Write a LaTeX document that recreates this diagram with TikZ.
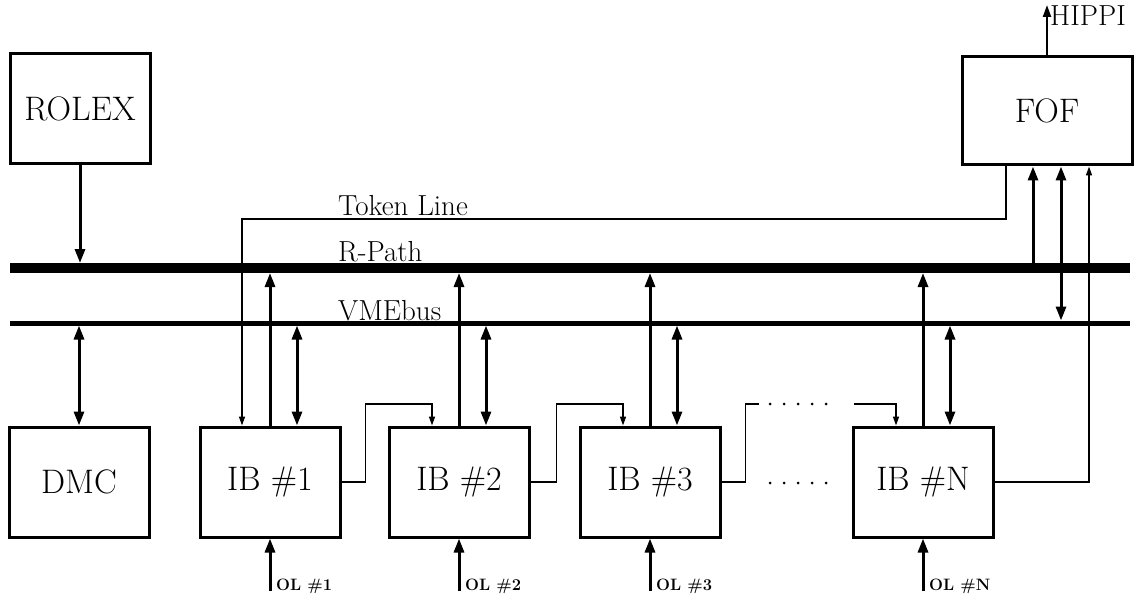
\documentclass[tikz,border=0pt]{standalone}
\usetikzlibrary{arrows.meta,calc}
\begin{document}
\begin{tikzpicture}[x=1pt,y=-1pt,
  box/.style={draw,line width=3pt,minimum width=140pt,minimum height=110pt,
    inner sep=0pt,font=\fontsize{34}{40}\selectfont},
  heavy/.style={line width=3pt,-{Triangle[length=14pt,width=10pt]}},
  heavyboth/.style={line width=3pt,{Triangle[length=14pt,width=10pt]}-{Triangle[length=14pt,width=10pt]}},
  light/.style={line width=1.5pt,-{Triangle[length=9pt,width=6pt]}},
  plain/.style={line width=1.5pt},
  buslabel/.style={font=\fontsize{29}{34}\selectfont,anchor=base west,inner sep=0pt},
  ollabel/.style={font=\fontsize{16.5}{19}\selectfont\bfseries,anchor=west,inner sep=0pt},
  dot/.style={fill,circle,inner sep=0pt,minimum size=3pt}]

\useasboundingbox (0,0) rectangle (1142,596);

% boxes
\node[box] (rolex) at (80,109)  {ROLEX};
\node[box] (fof)   at (1047,111) [minimum width=170pt,minimum height=108pt] {FOF};
\node[box] (dmc)   at (79,482)  {DMC};
\node[box] (ib1)   at (270,482) {IB \#1};
\node[box] (ib2)   at (459,482) {IB \#2};
\node[box] (ib3)   at (650,482) {IB \#3};
\node[box] (ibN)   at (923,482) {IB \#N};

% buses
\coordinate (rpL) at (10,268);  \coordinate (rpR) at (1130,268);
\coordinate (vmL) at (10,323);  \coordinate (vmR) at (1130,323);
\draw[line width=10pt] (rpL) -- (rpR);
\draw[line width=5pt]  (vmL) -- (vmR);
\coordinate (rpT) at (0,263);   \coordinate (rpB) at (0,273);
\coordinate (vmT) at (0,320.5); \coordinate (vmB) at (0,325.5);
\coordinate (tok) at (0,219);   \coordinate (chn) at (0,404);
\coordinate (olB) at (0,591);

% bus labels
\node[buslabel] (ltok) at (338,215) {Token Line};
\node[buslabel] (lrp)  at (338,261) {R-Path};
\node[buslabel] (lvme) at (338,320) {VMEbus};

% ROLEX and DMC
\draw[heavy] (rolex.south) -- (rolex.south |- rpT);
\draw[heavyboth] (dmc.north |- vmB) -- (dmc.north);

% input boards: R-Path, VMEbus and optical links
\foreach \b/\l in {ib1/1,ib2/2,ib3/3,ibN/N}{
  \coordinate (\b-v) at ($(\b.north)+(27,0)$);
  \coordinate (\b-c) at ($(\b.north)+(-27,0)$);
  \draw[heavy] (\b.north) -- (\b.north |- rpB);
  \draw[heavyboth] (\b-v |- vmB) -- (\b-v);
  \draw[heavy] (\b.south |- olB) -- (\b.south);
  \node[ollabel] (\b-ol) at ($(\b.south |- olB)+(6,-5)$) {OL \#\l};
}

% token chain between boards
\draw[light] (ib1.east) -- ++(24,0) |- (ib2-c |- chn) -- (ib2-c);
\draw[light] (ib2.east) -- ++(26,0) |- (ib3-c |- chn) -- (ib3-c);
\coordinate (d1) at (759,404);
\coordinate (d2) at (854,404);
\draw[plain] (ib3.east) -- ++(24,0) |- (d1);
\draw[light] (d2) -| (ibN-c);
\foreach \x in {770,784,798,812,826}{
  \node[dot] at (\x,404) {};
  \node[dot] at (\x,483) {};
}

% token line from FOF back to the first board
\coordinate (fof-t) at ($(fof.south)+(-41,0)$);
\coordinate (ib1-t) at ($(ib1.north)+(-28,0)$);
\draw[light] (fof-t) |- (ib1-t |- tok) -- (ib1-t);

% FOF connections
\coordinate (fof-r) at ($(fof.south)+(-14,0)$);
\coordinate (fof-v) at ($(fof.south)+(14,0)$);
\coordinate (fof-n) at ($(fof.south)+(42,0)$);
\draw[heavy] (fof-r |- rpT) -- (fof-r);
\draw[heavyboth] (fof-v) -- (fof-v |- vmT);
\draw[light] (ibN.east) -| (fof-n);

% HIPPI output
\coordinate (hippi) at (1047,5);
\draw[line width=2.2pt,-{Triangle[length=12pt,width=8pt]}] (fof.north) -- (hippi);
\node[buslabel] (lhippi) at (1050,26) {HIPPI};
\end{tikzpicture}
\end{document}
